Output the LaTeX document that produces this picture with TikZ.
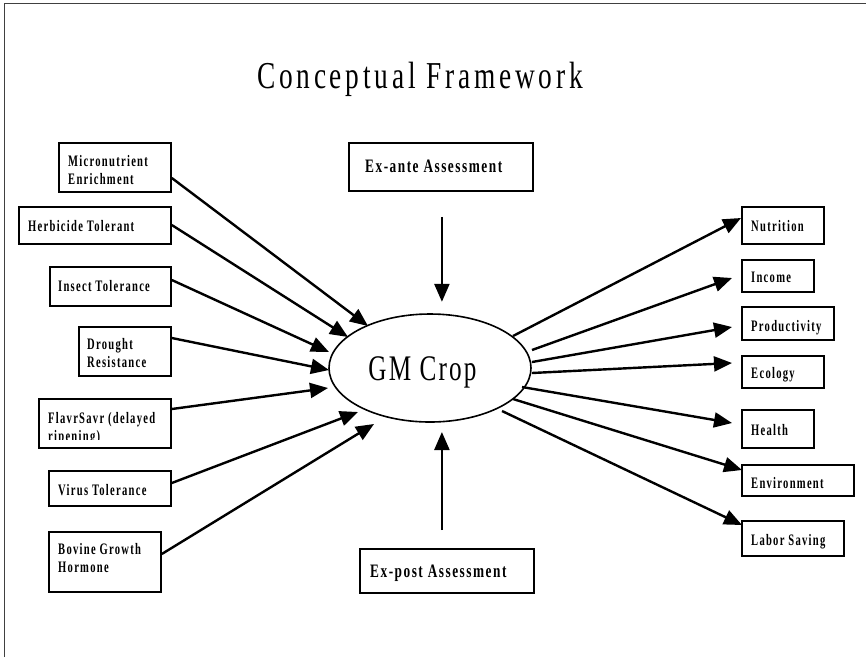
\documentclass[tikz,border=0pt]{standalone}
\usepackage{fontspec}
\setmainfont{Liberation Serif}
\newfontfamily\gmf[FakeStretch=0.7,LetterSpace=6]{Liberation Serif}
\newfontfamily\ttlf[FakeStretch=0.72,LetterSpace=10]{Liberation Serif}
\newfontfamily\bxf[FakeStretch=0.66,LetterSpace=8]{Liberation Serif}
\newfontfamily\bgf[FakeStretch=0.7,LetterSpace=8]{Liberation Serif}
\usetikzlibrary{arrows.meta,shapes.geometric,calc}
\begin{document}
\begin{tikzpicture}[x=1pt,y=-1pt,
  box/.style={draw, line width=1.8pt, anchor=north west, inner sep=0pt},
  lbl/.style={anchor=north west, inner sep=0pt, align=left, font=\bxf\bfseries\fontsize{16}{18}\selectfont},
  big/.style={anchor=north west, inner sep=0pt, font=\bgf\bfseries\fontsize{19}{22}\selectfont},
  arr/.style={line width=2.4pt, -{Triangle[length=18pt,width=15pt]}}]
\useasboundingbox (0,0) rectangle (866,657);
\fill[white] (0,0) rectangle (866,657);
\draw[line width=1.4pt, black!75] (4.5,657) -- (4.5,3.5) -- (866,3.5);

\node[inner sep=0pt, anchor=base, font=\ttlf\fontsize{38}{42}\selectfont] (title) at (420,88) {Conceptual Framework};

\node[draw, ellipse, line width=1.6pt, minimum width=202pt, minimum height=108pt, inner sep=0pt] (gm) at (430,368) {};
\node[inner sep=0pt, anchor=base, font=\gmf\fontsize{36}{40}\selectfont] (gmt) at (422.5,380) {GM Crop};

% left boxes
\node[box, minimum width=112pt, minimum height=49pt] (mic) at (58,142) {};
\node[lbl] (mict) at (68,155.5) {Micronutrient\\Enrichment};
\node[box, minimum width=152pt, minimum height=37pt] (herb) at (18,206) {};
\node[lbl] (herbt) at (28,220.5) {Herbicide Tolerant};
\node[box, minimum width=121pt, minimum height=39pt] (ins) at (49,266) {};
\node[lbl] (inst) at (58,280.5) {Insect Tolerance};
\node[box, minimum width=92pt, minimum height=49pt] (dro) at (78,326) {};
\node[lbl] (drot) at (87,338.5) {Drought\\Resistance};
\node[box, minimum width=132pt, minimum height=49pt] (fla) at (38,398) {};
\begin{scope}
\clip (38,398) rectangle (170,439);
\node[lbl] (flat) at (48,412.5) {FlavrSavr (delayed\\ripening)};
\end{scope}
\node[box, minimum width=122pt, minimum height=35pt] (vir) at (48,470) {};
\node[lbl] (virt) at (58,484.5) {Virus Tolerance};
\node[box, minimum width=112pt, minimum height=60pt] (bov) at (48,531) {};
\node[lbl] (bovt) at (58,543.5) {Bovine Growth\\Hormone};

% right boxes
\node[box, minimum width=82pt, minimum height=37pt] (nut) at (741,206) {};
\node[lbl] (nutt) at (751,220.5) {Nutrition};
\node[box, minimum width=72pt, minimum height=32pt] (inc) at (741,259) {};
\node[lbl] (inct) at (751,271.5) {Income};
\node[box, minimum width=92pt, minimum height=33pt] (pro) at (741,306) {};
\node[lbl] (prot) at (751,320.5) {Productivity};
\node[box, minimum width=82pt, minimum height=32pt] (eco) at (741,355) {};
\node[lbl] (ecot) at (751,367.5) {Ecology};
\node[box, minimum width=72pt, minimum height=38pt] (hea) at (741,409) {};
\node[lbl] (heat) at (751,424.5) {Health};
\node[box, minimum width=112pt, minimum height=31pt] (env) at (741,464) {};
\node[lbl] (envt) at (751,477.5) {Environment};
\node[box, minimum width=102pt, minimum height=35pt] (lab) at (741,520) {};
\node[lbl] (labt) at (751,534.5) {Labor Saving};

% assessment boxes
\node[box, minimum width=184pt, minimum height=48pt] (exa) at (348,142) {};
\node[big] (exat) at (365,160) {Ex-ante Assessment};
\node[box, minimum width=174pt, minimum height=44pt] (exp) at (359,548) {};
\node[big] (expt) at (370,565) {Ex-post Assessment};

% arrow tips on GM crop (left)
\coordinate (t1) at (368,326);
\coordinate (t2) at (348,337);
\coordinate (t3) at (329,352);
\coordinate (t4) at (329,370);
\coordinate (t5) at (328,388);
\coordinate (t6) at (358,412);
\coordinate (t7) at (374,424);
\draw[arr] ($(mic.north east)+(0,36)$) -- (t1);
\draw[arr] ($(herb.north east)+(0,19)$) -- (t2);
\draw[arr] ($(ins.north east)+(0,14)$) -- (t3);
\draw[arr] ($(dro.north east)+(0,12)$) -- (t4);
\draw[arr] ($(fla.north east)+(0,11)$) -- (t5);
\draw[arr] ($(vir.north east)+(0,13)$) -- (t6);
\draw[arr] ($(bov.north east)+(0,23)$) -- (t7);

% right arrows
\coordinate (s1) at (513,336);
\coordinate (s2) at (532,350);
\coordinate (s3) at (532,362);
\coordinate (s4) at (532,373);
\coordinate (s5) at (522,387);
\coordinate (s6) at (513,399);
\coordinate (s7) at (502,411);
\draw[arr] (s1) -- ($(nut.north west)+(0,12)$);
\draw[arr] (s2) -- ($(inc.north west)+(-9,19)$);
\draw[arr] (s3) -- ($(pro.north west)+(-9,21)$);
\draw[arr] (s4) -- ($(eco.north west)+(-9,8)$);
\draw[arr] (s5) -- ($(hea.north west)+(-9,14)$);
\draw[arr] (s6) -- ($(env.north west)+(1,6)$);
\draw[arr] (s7) -- ($(lab.north west)+(1,5)$);

% vertical arrows
\draw[arr] ($(exa.south)+(1,25)$) -- ($(exa.south)+(1,110)$);
\draw[arr] ($(exp.north)+(-5,-18)$) -- ($(exp.north)+(-5,-116)$);
\end{tikzpicture}
\end{document}
